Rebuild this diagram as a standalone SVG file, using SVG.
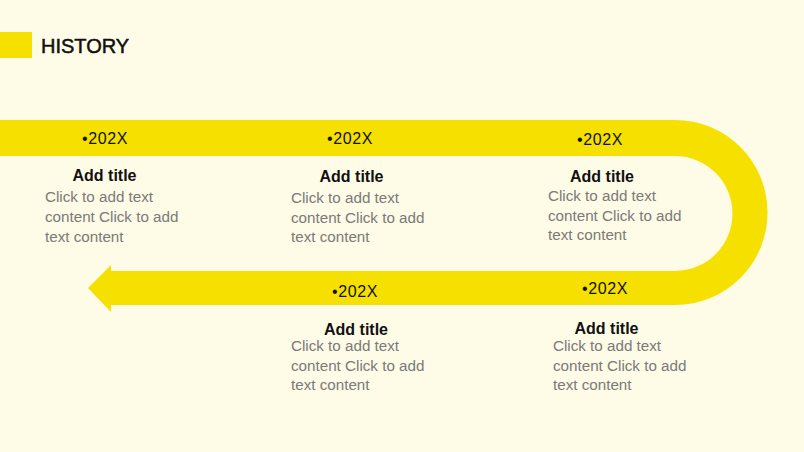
<svg xmlns="http://www.w3.org/2000/svg" width="804" height="452" viewBox="0 0 804 452">
<style>
.date{font-family:"Liberation Sans",Arial,sans-serif;font-size:16px;letter-spacing:0.6px;fill:#111}
.title{font-family:"Liberation Sans",Arial,sans-serif;font-size:16px;font-weight:bold;fill:#111;text-anchor:middle}
.body{font-family:"Liberation Sans",Arial,sans-serif;font-size:15.2px;fill:#7a7a7a}
</style>
<rect width="804" height="452" fill="#FEFBE6"/>
<g id="header">
<rect x="0" y="32" width="32" height="26" fill="#F5E000"/>
<text x="41" y="53" font-family="Liberation Sans,Arial,sans-serif" font-size="20" fill="#111" stroke="#111" stroke-width="0.5">HISTORY</text>
</g>
<g id="connectors">
<path d="M0,120 H675 A92.5,92.5 0 0 1 675,305 H111 V312 L88,288 L111,265 V271 H675 A57.5,57.5 0 0 0 675,156 H0 Z" fill="#F5E000"/>
</g>
<g id="item1">
<text class="date" x="82" y="144">•202X</text>
<text class="title" x="104.5" y="181">Add title</text>
<text class="body" x="45" y="202">Click to add text</text>
<text class="body" x="45" y="222">content Click to add</text>
<text class="body" x="45" y="241.5">text content</text>
</g>
<g id="item2">
<text class="date" x="327" y="144">•202X</text>
<text class="title" x="351.5" y="182">Add title</text>
<text class="body" x="291" y="203">Click to add text</text>
<text class="body" x="291" y="222.5">content Click to add</text>
<text class="body" x="291" y="242">text content</text>
</g>
<g id="item3">
<text class="date" x="577" y="145">•202X</text>
<text class="title" x="602" y="182">Add title</text>
<text class="body" x="548" y="201">Click to add text</text>
<text class="body" x="548" y="220.5">content Click to add</text>
<text class="body" x="548" y="240">text content</text>
</g>
<g id="item4">
<text class="date" x="332" y="296.5">•202X</text>
<text class="title" x="356" y="335">Add title</text>
<text class="body" x="291" y="351">Click to add text</text>
<text class="body" x="291" y="370.5">content Click to add</text>
<text class="body" x="291" y="390">text content</text>
</g>
<g id="item5">
<text class="date" x="582" y="293.5">•202X</text>
<text class="title" x="606.5" y="333.5">Add title</text>
<text class="body" x="553" y="351">Click to add text</text>
<text class="body" x="553" y="370.5">content Click to add</text>
<text class="body" x="553" y="390">text content</text>
</g>
</svg>
